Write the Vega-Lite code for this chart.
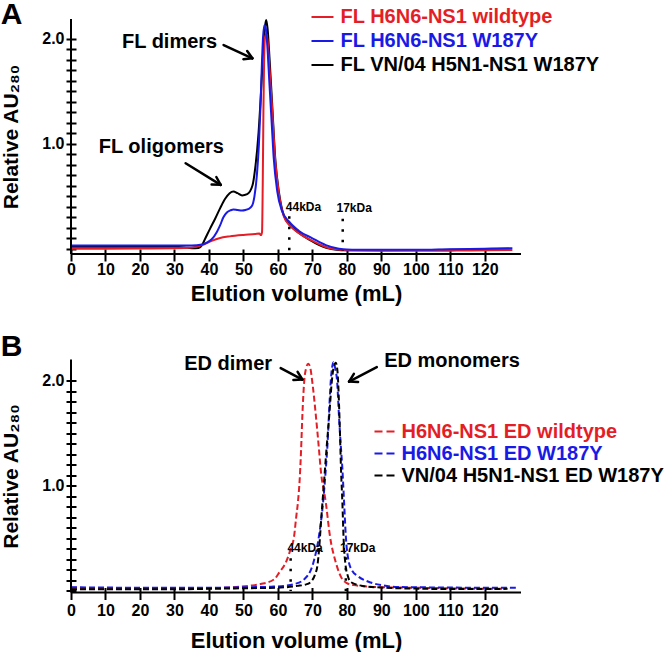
{
  "$schema": "https://vega.github.io/schema/vega-lite/v6.json",
  "background": "white",
  "padding": {"left": 0, "top": 0, "right": 0, "bottom": 0},
  "spacing": 26.5,
  "config": {
    "font": "Liberation Sans",
    "view": {"stroke": null},
    "axis": {"grid": false, "domain": false, "tickColor": "#000", "tickWidth": 2, "labelColor": "#000", "labelFontSize": 16, "labelFontWeight": "bold", "titleColor": "#000", "titleFontSize": 21, "titleFontWeight": "bold", "labelFont": "Liberation Sans", "titleFont": "Liberation Sans"},
    "title": {"fontSize": 30, "fontWeight": "bold", "color": "#000", "anchor": "start", "frame": "bounds", "font": "Liberation Sans"},
    "legend": {"orient": "none", "title": null, "symbolType": "stroke", "symbolSize": 484, "symbolStrokeWidth": 2, "labelFontSize": 20, "labelFontWeight": "bold", "labelLimit": 600, "padding": 0, "labelFont": "Liberation Sans"},
    "text": {"font": "Liberation Sans"}
  },
  "resolve": {"scale": {"color": "independent"}},
  "datasets": {
    "fl": [
      {"series": "FL VN/04 H5N1-NS1 W187Y", "volume": 0, "au": 0.02},
      {"series": "FL VN/04 H5N1-NS1 W187Y", "volume": 10, "au": 0.02},
      {"series": "FL VN/04 H5N1-NS1 W187Y", "volume": 20, "au": 0.02},
      {"series": "FL VN/04 H5N1-NS1 W187Y", "volume": 30, "au": 0.018},
      {"series": "FL VN/04 H5N1-NS1 W187Y", "volume": 33, "au": 0.012},
      {"series": "FL VN/04 H5N1-NS1 W187Y", "volume": 35, "au": 0.005},
      {"series": "FL VN/04 H5N1-NS1 W187Y", "volume": 37, "au": 0.008},
      {"series": "FL VN/04 H5N1-NS1 W187Y", "volume": 38, "au": 0.035},
      {"series": "FL VN/04 H5N1-NS1 W187Y", "volume": 38.9, "au": 0.095},
      {"series": "FL VN/04 H5N1-NS1 W187Y", "volume": 40.3, "au": 0.19},
      {"series": "FL VN/04 H5N1-NS1 W187Y", "volume": 41.8, "au": 0.286},
      {"series": "FL VN/04 H5N1-NS1 W187Y", "volume": 43.3, "au": 0.39},
      {"series": "FL VN/04 H5N1-NS1 W187Y", "volume": 44.7, "au": 0.476},
      {"series": "FL VN/04 H5N1-NS1 W187Y", "volume": 46, "au": 0.53},
      {"series": "FL VN/04 H5N1-NS1 W187Y", "volume": 47.1, "au": 0.546},
      {"series": "FL VN/04 H5N1-NS1 W187Y", "volume": 48.3, "au": 0.53},
      {"series": "FL VN/04 H5N1-NS1 W187Y", "volume": 49.6, "au": 0.508},
      {"series": "FL VN/04 H5N1-NS1 W187Y", "volume": 51.1, "au": 0.52},
      {"series": "FL VN/04 H5N1-NS1 W187Y", "volume": 52.6, "au": 0.6},
      {"series": "FL VN/04 H5N1-NS1 W187Y", "volume": 53.5, "au": 0.79},
      {"series": "FL VN/04 H5N1-NS1 W187Y", "volume": 54.4, "au": 1.11},
      {"series": "FL VN/04 H5N1-NS1 W187Y", "volume": 55.2, "au": 1.55},
      {"series": "FL VN/04 H5N1-NS1 W187Y", "volume": 55.9, "au": 1.98},
      {"series": "FL VN/04 H5N1-NS1 W187Y", "volume": 56.3, "au": 2.13},
      {"series": "FL VN/04 H5N1-NS1 W187Y", "volume": 56.6, "au": 2.18},
      {"series": "FL VN/04 H5N1-NS1 W187Y", "volume": 57, "au": 2.1},
      {"series": "FL VN/04 H5N1-NS1 W187Y", "volume": 57.6, "au": 1.8},
      {"series": "FL VN/04 H5N1-NS1 W187Y", "volume": 58.3, "au": 1.4},
      {"series": "FL VN/04 H5N1-NS1 W187Y", "volume": 59.3, "au": 0.83},
      {"series": "FL VN/04 H5N1-NS1 W187Y", "volume": 60.3, "au": 0.54},
      {"series": "FL VN/04 H5N1-NS1 W187Y", "volume": 61.7, "au": 0.32},
      {"series": "FL VN/04 H5N1-NS1 W187Y", "volume": 63.7, "au": 0.22},
      {"series": "FL VN/04 H5N1-NS1 W187Y", "volume": 65, "au": 0.18},
      {"series": "FL VN/04 H5N1-NS1 W187Y", "volume": 67, "au": 0.13},
      {"series": "FL VN/04 H5N1-NS1 W187Y", "volume": 70, "au": 0.07},
      {"series": "FL VN/04 H5N1-NS1 W187Y", "volume": 72, "au": 0.035},
      {"series": "FL VN/04 H5N1-NS1 W187Y", "volume": 74, "au": 0.01},
      {"series": "FL VN/04 H5N1-NS1 W187Y", "volume": 77, "au": -0.01},
      {"series": "FL VN/04 H5N1-NS1 W187Y", "volume": 80, "au": -0.015},
      {"series": "FL VN/04 H5N1-NS1 W187Y", "volume": 90, "au": -0.015},
      {"series": "FL VN/04 H5N1-NS1 W187Y", "volume": 100, "au": -0.012},
      {"series": "FL VN/04 H5N1-NS1 W187Y", "volume": 110, "au": -0.01},
      {"series": "FL VN/04 H5N1-NS1 W187Y", "volume": 120, "au": -0.005},
      {"series": "FL VN/04 H5N1-NS1 W187Y", "volume": 127, "au": 0.0},
      {"series": "FL H6N6-NS1 wildtype", "volume": 0, "au": 0.0},
      {"series": "FL H6N6-NS1 wildtype", "volume": 10, "au": 0.0},
      {"series": "FL H6N6-NS1 wildtype", "volume": 20, "au": 0.002},
      {"series": "FL H6N6-NS1 wildtype", "volume": 30, "au": 0.005},
      {"series": "FL H6N6-NS1 wildtype", "volume": 35, "au": 0.012},
      {"series": "FL H6N6-NS1 wildtype", "volume": 38, "au": 0.035},
      {"series": "FL H6N6-NS1 wildtype", "volume": 40.8, "au": 0.075},
      {"series": "FL H6N6-NS1 wildtype", "volume": 43, "au": 0.1},
      {"series": "FL H6N6-NS1 wildtype", "volume": 46, "au": 0.118},
      {"series": "FL H6N6-NS1 wildtype", "volume": 50, "au": 0.132},
      {"series": "FL H6N6-NS1 wildtype", "volume": 53.4, "au": 0.14},
      {"series": "FL H6N6-NS1 wildtype", "volume": 54.6, "au": 0.145},
      {"series": "FL H6N6-NS1 wildtype", "volume": 55.1, "au": 0.13},
      {"series": "FL H6N6-NS1 wildtype", "volume": 55.4, "au": 0.16},
      {"series": "FL H6N6-NS1 wildtype", "volume": 55.6, "au": 0.6},
      {"series": "FL H6N6-NS1 wildtype", "volume": 55.8, "au": 1.3},
      {"series": "FL H6N6-NS1 wildtype", "volume": 56.0, "au": 1.8},
      {"series": "FL H6N6-NS1 wildtype", "volume": 56.3, "au": 2.02},
      {"series": "FL H6N6-NS1 wildtype", "volume": 56.7, "au": 2.05},
      {"series": "FL H6N6-NS1 wildtype", "volume": 57.1, "au": 1.95},
      {"series": "FL H6N6-NS1 wildtype", "volume": 57.6, "au": 1.7},
      {"series": "FL H6N6-NS1 wildtype", "volume": 58.3, "au": 1.35},
      {"series": "FL H6N6-NS1 wildtype", "volume": 59.2, "au": 0.85},
      {"series": "FL H6N6-NS1 wildtype", "volume": 60.3, "au": 0.52},
      {"series": "FL H6N6-NS1 wildtype", "volume": 61.7, "au": 0.31},
      {"series": "FL H6N6-NS1 wildtype", "volume": 63.5, "au": 0.22},
      {"series": "FL H6N6-NS1 wildtype", "volume": 66, "au": 0.15},
      {"series": "FL H6N6-NS1 wildtype", "volume": 70, "au": 0.075},
      {"series": "FL H6N6-NS1 wildtype", "volume": 74, "au": 0.015},
      {"series": "FL H6N6-NS1 wildtype", "volume": 78, "au": -0.01},
      {"series": "FL H6N6-NS1 wildtype", "volume": 80, "au": -0.015},
      {"series": "FL H6N6-NS1 wildtype", "volume": 90, "au": -0.018},
      {"series": "FL H6N6-NS1 wildtype", "volume": 100, "au": -0.018},
      {"series": "FL H6N6-NS1 wildtype", "volume": 110, "au": -0.018},
      {"series": "FL H6N6-NS1 wildtype", "volume": 120, "au": -0.015},
      {"series": "FL H6N6-NS1 wildtype", "volume": 128, "au": -0.012},
      {"series": "FL H6N6-NS1 W187Y", "volume": 0, "au": 0.03},
      {"series": "FL H6N6-NS1 W187Y", "volume": 10, "au": 0.03},
      {"series": "FL H6N6-NS1 W187Y", "volume": 20, "au": 0.03},
      {"series": "FL H6N6-NS1 W187Y", "volume": 30, "au": 0.03},
      {"series": "FL H6N6-NS1 W187Y", "volume": 35, "au": 0.03},
      {"series": "FL H6N6-NS1 W187Y", "volume": 38, "au": 0.04},
      {"series": "FL H6N6-NS1 W187Y", "volume": 39.5, "au": 0.06},
      {"series": "FL H6N6-NS1 W187Y", "volume": 40.8, "au": 0.09},
      {"series": "FL H6N6-NS1 W187Y", "volume": 42.3, "au": 0.16},
      {"series": "FL H6N6-NS1 W187Y", "volume": 43.2, "au": 0.22},
      {"series": "FL H6N6-NS1 W187Y", "volume": 44.2, "au": 0.3},
      {"series": "FL H6N6-NS1 W187Y", "volume": 45.2, "au": 0.345},
      {"series": "FL H6N6-NS1 W187Y", "volume": 46.2, "au": 0.365},
      {"series": "FL H6N6-NS1 W187Y", "volume": 47.1, "au": 0.375},
      {"series": "FL H6N6-NS1 W187Y", "volume": 48.3, "au": 0.37},
      {"series": "FL H6N6-NS1 W187Y", "volume": 49.6, "au": 0.365},
      {"series": "FL H6N6-NS1 W187Y", "volume": 50.6, "au": 0.37},
      {"series": "FL H6N6-NS1 W187Y", "volume": 51.5, "au": 0.38},
      {"series": "FL H6N6-NS1 W187Y", "volume": 52.5, "au": 0.41},
      {"series": "FL H6N6-NS1 W187Y", "volume": 53.2, "au": 0.5},
      {"series": "FL H6N6-NS1 W187Y", "volume": 53.9, "au": 0.7},
      {"series": "FL H6N6-NS1 W187Y", "volume": 54.5, "au": 1.0},
      {"series": "FL H6N6-NS1 W187Y", "volume": 55.0, "au": 1.4},
      {"series": "FL H6N6-NS1 W187Y", "volume": 55.4, "au": 1.8},
      {"series": "FL H6N6-NS1 W187Y", "volume": 55.7, "au": 2.02},
      {"series": "FL H6N6-NS1 W187Y", "volume": 56.1, "au": 2.13},
      {"series": "FL H6N6-NS1 W187Y", "volume": 56.5, "au": 2.1},
      {"series": "FL H6N6-NS1 W187Y", "volume": 57, "au": 1.9},
      {"series": "FL H6N6-NS1 W187Y", "volume": 57.5, "au": 1.6},
      {"series": "FL H6N6-NS1 W187Y", "volume": 58.2, "au": 1.2},
      {"series": "FL H6N6-NS1 W187Y", "volume": 58.8, "au": 0.86},
      {"series": "FL H6N6-NS1 W187Y", "volume": 59.8, "au": 0.55},
      {"series": "FL H6N6-NS1 W187Y", "volume": 61.2, "au": 0.36},
      {"series": "FL H6N6-NS1 W187Y", "volume": 63.2, "au": 0.26},
      {"series": "FL H6N6-NS1 W187Y", "volume": 66.1, "au": 0.17},
      {"series": "FL H6N6-NS1 W187Y", "volume": 70, "au": 0.1},
      {"series": "FL H6N6-NS1 W187Y", "volume": 73.9, "au": 0.035},
      {"series": "FL H6N6-NS1 W187Y", "volume": 77.7, "au": 0.0},
      {"series": "FL H6N6-NS1 W187Y", "volume": 80, "au": -0.008},
      {"series": "FL H6N6-NS1 W187Y", "volume": 90, "au": -0.01},
      {"series": "FL H6N6-NS1 W187Y", "volume": 100, "au": -0.01},
      {"series": "FL H6N6-NS1 W187Y", "volume": 110, "au": -0.005},
      {"series": "FL H6N6-NS1 W187Y", "volume": 120, "au": 0.0},
      {"series": "FL H6N6-NS1 W187Y", "volume": 128, "au": 0.006}
    ],
    "ed": [
      {"series": "H6N6-NS1 ED wildtype", "volume": 0, "au": 0.03},
      {"series": "H6N6-NS1 ED wildtype", "volume": 10, "au": 0.025},
      {"series": "H6N6-NS1 ED wildtype", "volume": 20, "au": 0.022},
      {"series": "H6N6-NS1 ED wildtype", "volume": 30, "au": 0.02},
      {"series": "H6N6-NS1 ED wildtype", "volume": 40, "au": 0.025},
      {"series": "H6N6-NS1 ED wildtype", "volume": 47, "au": 0.035},
      {"series": "H6N6-NS1 ED wildtype", "volume": 52, "au": 0.05},
      {"series": "H6N6-NS1 ED wildtype", "volume": 55, "au": 0.065},
      {"series": "H6N6-NS1 ED wildtype", "volume": 58.9, "au": 0.11},
      {"series": "H6N6-NS1 ED wildtype", "volume": 60.5, "au": 0.18},
      {"series": "H6N6-NS1 ED wildtype", "volume": 62.3, "au": 0.27},
      {"series": "H6N6-NS1 ED wildtype", "volume": 63.7, "au": 0.4},
      {"series": "H6N6-NS1 ED wildtype", "volume": 64.7, "au": 0.52},
      {"series": "H6N6-NS1 ED wildtype", "volume": 65.3, "au": 0.7},
      {"series": "H6N6-NS1 ED wildtype", "volume": 65.8, "au": 0.84},
      {"series": "H6N6-NS1 ED wildtype", "volume": 66.3, "au": 1.05},
      {"series": "H6N6-NS1 ED wildtype", "volume": 66.7, "au": 1.32},
      {"series": "H6N6-NS1 ED wildtype", "volume": 67.1, "au": 1.67},
      {"series": "H6N6-NS1 ED wildtype", "volume": 67.6, "au": 1.98},
      {"series": "H6N6-NS1 ED wildtype", "volume": 68.2, "au": 2.12},
      {"series": "H6N6-NS1 ED wildtype", "volume": 68.8, "au": 2.16},
      {"series": "H6N6-NS1 ED wildtype", "volume": 69.4, "au": 2.12},
      {"series": "H6N6-NS1 ED wildtype", "volume": 70, "au": 1.98},
      {"series": "H6N6-NS1 ED wildtype", "volume": 71, "au": 1.67},
      {"series": "H6N6-NS1 ED wildtype", "volume": 71.9, "au": 1.35},
      {"series": "H6N6-NS1 ED wildtype", "volume": 72.4, "au": 1.16},
      {"series": "H6N6-NS1 ED wildtype", "volume": 73.9, "au": 0.84},
      {"series": "H6N6-NS1 ED wildtype", "volume": 75.1, "au": 0.52},
      {"series": "H6N6-NS1 ED wildtype", "volume": 76.8, "au": 0.27},
      {"series": "H6N6-NS1 ED wildtype", "volume": 78.7, "au": 0.11},
      {"series": "H6N6-NS1 ED wildtype", "volume": 80, "au": 0.075},
      {"series": "H6N6-NS1 ED wildtype", "volume": 82, "au": 0.055},
      {"series": "H6N6-NS1 ED wildtype", "volume": 86, "au": 0.042},
      {"series": "H6N6-NS1 ED wildtype", "volume": 90, "au": 0.035},
      {"series": "H6N6-NS1 ED wildtype", "volume": 100, "au": 0.03},
      {"series": "H6N6-NS1 ED wildtype", "volume": 110, "au": 0.025},
      {"series": "H6N6-NS1 ED wildtype", "volume": 120, "au": 0.02},
      {"series": "H6N6-NS1 ED wildtype", "volume": 125, "au": 0.02},
      {"series": "H6N6-NS1 ED W187Y", "volume": 0, "au": 0.035},
      {"series": "H6N6-NS1 ED W187Y", "volume": 10, "au": 0.032},
      {"series": "H6N6-NS1 ED W187Y", "volume": 20, "au": 0.03},
      {"series": "H6N6-NS1 ED W187Y", "volume": 30, "au": 0.03},
      {"series": "H6N6-NS1 ED W187Y", "volume": 40, "au": 0.03},
      {"series": "H6N6-NS1 ED W187Y", "volume": 50, "au": 0.035},
      {"series": "H6N6-NS1 ED W187Y", "volume": 58, "au": 0.04},
      {"series": "H6N6-NS1 ED W187Y", "volume": 62, "au": 0.048},
      {"series": "H6N6-NS1 ED W187Y", "volume": 64.7, "au": 0.064},
      {"series": "H6N6-NS1 ED W187Y", "volume": 67.6, "au": 0.11},
      {"series": "H6N6-NS1 ED W187Y", "volume": 70.3, "au": 0.27},
      {"series": "H6N6-NS1 ED W187Y", "volume": 71.9, "au": 0.52},
      {"series": "H6N6-NS1 ED W187Y", "volume": 73.1, "au": 0.84},
      {"series": "H6N6-NS1 ED W187Y", "volume": 73.9, "au": 1.16},
      {"series": "H6N6-NS1 ED W187Y", "volume": 74.4, "au": 1.4},
      {"series": "H6N6-NS1 ED W187Y", "volume": 74.8, "au": 1.67},
      {"series": "H6N6-NS1 ED W187Y", "volume": 75.3, "au": 1.98},
      {"series": "H6N6-NS1 ED W187Y", "volume": 75.7, "au": 2.12},
      {"series": "H6N6-NS1 ED W187Y", "volume": 76.1, "au": 2.175},
      {"series": "H6N6-NS1 ED W187Y", "volume": 76.6, "au": 2.12},
      {"series": "H6N6-NS1 ED W187Y", "volume": 77.2, "au": 1.98},
      {"series": "H6N6-NS1 ED W187Y", "volume": 77.7, "au": 1.67},
      {"series": "H6N6-NS1 ED W187Y", "volume": 78.2, "au": 1.4},
      {"series": "H6N6-NS1 ED W187Y", "volume": 78.7, "au": 1.16},
      {"series": "H6N6-NS1 ED W187Y", "volume": 79.2, "au": 0.84},
      {"series": "H6N6-NS1 ED W187Y", "volume": 79.7, "au": 0.52},
      {"series": "H6N6-NS1 ED W187Y", "volume": 80.6, "au": 0.27},
      {"series": "H6N6-NS1 ED W187Y", "volume": 81.6, "au": 0.19},
      {"series": "H6N6-NS1 ED W187Y", "volume": 83.1, "au": 0.143},
      {"series": "H6N6-NS1 ED W187Y", "volume": 86.9, "au": 0.08},
      {"series": "H6N6-NS1 ED W187Y", "volume": 90, "au": 0.055},
      {"series": "H6N6-NS1 ED W187Y", "volume": 94.7, "au": 0.038},
      {"series": "H6N6-NS1 ED W187Y", "volume": 100, "au": 0.035},
      {"series": "H6N6-NS1 ED W187Y", "volume": 110, "au": 0.032},
      {"series": "H6N6-NS1 ED W187Y", "volume": 120, "au": 0.03},
      {"series": "H6N6-NS1 ED W187Y", "volume": 129, "au": 0.03},
      {"series": "VN/04 H5N1-NS1 ED W187Y", "volume": 0, "au": 0.016},
      {"series": "VN/04 H5N1-NS1 ED W187Y", "volume": 10, "au": 0.015},
      {"series": "VN/04 H5N1-NS1 ED W187Y", "volume": 20, "au": 0.015},
      {"series": "VN/04 H5N1-NS1 ED W187Y", "volume": 30, "au": 0.015},
      {"series": "VN/04 H5N1-NS1 ED W187Y", "volume": 40, "au": 0.02},
      {"series": "VN/04 H5N1-NS1 ED W187Y", "volume": 50, "au": 0.025},
      {"series": "VN/04 H5N1-NS1 ED W187Y", "volume": 60.8, "au": 0.032},
      {"series": "VN/04 H5N1-NS1 ED W187Y", "volume": 65.7, "au": 0.048},
      {"series": "VN/04 H5N1-NS1 ED W187Y", "volume": 68, "au": 0.06},
      {"series": "VN/04 H5N1-NS1 ED W187Y", "volume": 69.5, "au": 0.085},
      {"series": "VN/04 H5N1-NS1 ED W187Y", "volume": 70.7, "au": 0.15},
      {"series": "VN/04 H5N1-NS1 ED W187Y", "volume": 71.5, "au": 0.25},
      {"series": "VN/04 H5N1-NS1 ED W187Y", "volume": 72.0, "au": 0.42},
      {"series": "VN/04 H5N1-NS1 ED W187Y", "volume": 72.6, "au": 0.7},
      {"series": "VN/04 H5N1-NS1 ED W187Y", "volume": 73.3, "au": 1.0},
      {"series": "VN/04 H5N1-NS1 ED W187Y", "volume": 74.1, "au": 1.35},
      {"series": "VN/04 H5N1-NS1 ED W187Y", "volume": 74.9, "au": 1.67},
      {"series": "VN/04 H5N1-NS1 ED W187Y", "volume": 75.6, "au": 1.98},
      {"series": "VN/04 H5N1-NS1 ED W187Y", "volume": 76.2, "au": 2.13},
      {"series": "VN/04 H5N1-NS1 ED W187Y", "volume": 76.8, "au": 2.17},
      {"series": "VN/04 H5N1-NS1 ED W187Y", "volume": 77.3, "au": 2.08},
      {"series": "VN/04 H5N1-NS1 ED W187Y", "volume": 77.7, "au": 1.8},
      {"series": "VN/04 H5N1-NS1 ED W187Y", "volume": 78.0, "au": 1.5},
      {"series": "VN/04 H5N1-NS1 ED W187Y", "volume": 78.3, "au": 1.16},
      {"series": "VN/04 H5N1-NS1 ED W187Y", "volume": 78.7, "au": 0.84},
      {"series": "VN/04 H5N1-NS1 ED W187Y", "volume": 79.1, "au": 0.46},
      {"series": "VN/04 H5N1-NS1 ED W187Y", "volume": 79.6, "au": 0.25},
      {"series": "VN/04 H5N1-NS1 ED W187Y", "volume": 80.3, "au": 0.14},
      {"series": "VN/04 H5N1-NS1 ED W187Y", "volume": 81.1, "au": 0.085},
      {"series": "VN/04 H5N1-NS1 ED W187Y", "volume": 85, "au": 0.045},
      {"series": "VN/04 H5N1-NS1 ED W187Y", "volume": 90, "au": 0.032},
      {"series": "VN/04 H5N1-NS1 ED W187Y", "volume": 100, "au": 0.022},
      {"series": "VN/04 H5N1-NS1 ED W187Y", "volume": 110, "au": 0.018},
      {"series": "VN/04 H5N1-NS1 ED W187Y", "volume": 120, "au": 0.018},
      {"series": "VN/04 H5N1-NS1 ED W187Y", "volume": 126.6, "au": 0.02}
    ],
    "arrowsA": [
      {"volume": 44.27, "au": 1.942, "volume2": 52.6, "au2": 1.815},
      {"volume": 52.6, "au": 1.815, "volume2": 51.09, "au2": 1.885},
      {"volume": 52.6, "au": 1.815, "volume2": 49.99, "au2": 1.807},
      {"volume": 33.24, "au": 0.815, "volume2": 43.4, "au2": 0.609},
      {"volume": 43.4, "au": 0.609, "volume2": 42.15, "au2": 0.684},
      {"volume": 43.4, "au": 0.609, "volume2": 40.78, "au2": 0.612}
    ],
    "arrowsB": [
      {"volume": 60.81, "au": 2.118, "volume2": 67.11, "au2": 2.0095},
      {"volume": 67.11, "au": 2.0095, "volume2": 65.72, "au2": 2.082},
      {"volume": 67.11, "au": 2.0095, "volume2": 64.5, "au2": 2.006},
      {"volume": 88.68, "au": 2.128, "volume2": 80.64, "au2": 1.99},
      {"volume": 80.64, "au": 1.99, "volume2": 83.25, "au2": 1.987},
      {"volume": 80.64, "au": 1.99, "volume2": 82.03, "au2": 2.063}
    ],
    "labelsA": [
      {"volume": 28.6, "au": 1.91, "text": "FL dimers"},
      {"volume": 26.2, "au": 0.91, "text": "FL oligomers"}
    ],
    "labelsB": [
      {"volume": 45.57, "au": 2.102, "text": "ED dimer"},
      {"volume": 110.5, "au": 2.128, "text": "ED monomers"}
    ],
    "markersA": [
      {"volume": 63.3, "au": 0.31, "au2": -0.02, "volumeText": 62.3, "auText": 0.36, "text": "44kDa"},
      {"volume": 78.8, "au": 0.285, "au2": -0.02, "volumeText": 77.0, "auText": 0.355, "text": "17kDa"}
    ],
    "markersB": [
      {"volume": 63.7, "au": 0.31, "au2": 0.0, "volumeText": 62.76, "auText": 0.366, "text": "44kDa"},
      {"volume": 79.7, "au": 0.32, "au2": 0.0, "volumeText": 78.0, "auText": 0.366, "text": "17kDa"}
    ]
  },
  "vconcat": [
    {
      "title": {"text": "A", "dy": 29},
      "width": 450,
      "height": 235,
      "layer": [
        {
          "data": {"name": "fl"},
          "mark": {"type": "line", "strokeWidth": 2, "interpolate": "monotone"},
          "encoding": {
            "x": {"field": "volume", "type": "quantitative", "scale": {"domain": [0, 130.5], "nice": false, "zero": false},
              "axis": {"title": "Elution volume (mL)", "titleFontSize": 22, "values": [0, 10, 20, 30, 40, 50, 60, 70, 80, 90, 100, 110, 120], "tickCount": 14, "offset": -5, "tickSize": 12, "labelPadding": 0, "titlePadding": 6.5, "labelFlush": false, "labelOverlap": false}},
            "y": {"field": "au", "type": "quantitative", "scale": {"domain": [-0.05, 2.19], "nice": false, "zero": false},
              "axis": {"title": "Relative AU₂₈₀", "values": [0, 0.1, 0.2, 0.3, 0.4, 0.5, 0.6, 0.7, 0.8, 0.9, 1, 1.1, 1.2, 1.3, 1.4, 1.5, 1.6, 1.7, 1.8, 1.9, 2], "tickCount": 22, "labelExpr": "(datum.value > 0.95 && datum.value < 1.05) || datum.value > 1.95 ? format(datum.value, '.1f') : ''", "offset": -5, "tickSize": 10, "labelPadding": 2, "titlePadding": 20, "labelOverlap": false}},
            "color": {"field": "series", "type": "nominal",
              "scale": {"domain": ["FL H6N6-NS1 wildtype", "FL H6N6-NS1 W187Y", "FL VN/04 H5N1-NS1 W187Y"], "range": ["#e41e26", "#1a1ae6", "#000000"]},
              "legend": {"legendX": 239.5, "legendY": -14, "labelOffset": 6, "rowPadding": 2,
                "encode": {"labels": {"update": {"fill": {"signal": "datum.value === 'FL H6N6-NS1 wildtype' ? '#e41e26' : datum.value === 'FL H6N6-NS1 W187Y' ? '#1a1ae6' : '#000000'"}}}}}}
          }
        },
        {
          "data": {"values": [{}]},
          "mark": {"type": "rule", "strokeWidth": 2, "color": "#000"},
          "encoding": {"y": {"datum": -0.05, "type": "quantitative", "scale": {"domain": [-0.05, 2.19], "nice": false, "zero": false}}}
        },
        {
          "data": {"values": [{}]},
          "mark": {"type": "rule", "strokeWidth": 2, "color": "#000"},
          "encoding": {
            "x": {"datum": 0, "type": "quantitative", "scale": {"domain": [0, 130.5], "nice": false, "zero": false}},
            "y": {"datum": -0.05, "type": "quantitative", "scale": {"domain": [-0.05, 2.19], "nice": false, "zero": false}},
            "y2": {"datum": 2.19}
          }
        },
        {
          "data": {"name": "markersA"},
          "mark": {"type": "rule", "strokeWidth": 2.5, "strokeDash": [2.5, 8], "color": "#000"},
          "encoding": {
            "x": {"field": "volume", "type": "quantitative"},
            "y": {"field": "au", "type": "quantitative"},
            "y2": {"field": "au2"}
          }
        },
        {
          "data": {"name": "markersA"},
          "mark": {"type": "text", "fontSize": 12, "fontWeight": "bold", "align": "left", "baseline": "alphabetic", "color": "#000"},
          "encoding": {
            "x": {"field": "volumeText", "type": "quantitative"},
            "y": {"field": "auText", "type": "quantitative"},
            "text": {"field": "text"}
          }
        },
        {
          "data": {"name": "arrowsA"},
          "mark": {"type": "rule", "strokeWidth": 2.5, "color": "#000", "strokeCap": "round"},
          "encoding": {
            "x": {"field": "volume", "type": "quantitative"},
            "y": {"field": "au", "type": "quantitative"},
            "x2": {"field": "volume2"},
            "y2": {"field": "au2"}
          }
        },
        {
          "data": {"name": "labelsA"},
          "mark": {"type": "text", "fontSize": 20, "fontWeight": "bold", "align": "center", "baseline": "alphabetic", "color": "#000"},
          "encoding": {
            "x": {"field": "volume", "type": "quantitative"},
            "y": {"field": "au", "type": "quantitative"},
            "text": {"field": "text"}
          }
        }
      ]
    },
    {
      "title": {"text": "B", "dy": 15},
      "width": 450,
      "height": 233,
      "layer": [
        {
          "data": {"name": "ed"},
          "mark": {"type": "line", "strokeWidth": 2, "strokeDash": [6, 3], "interpolate": "monotone"},
          "encoding": {
            "x": {"field": "volume", "type": "quantitative", "scale": {"domain": [0, 130.5], "nice": false, "zero": false},
              "axis": {"title": "Elution volume (mL)", "titleFontSize": 22, "values": [0, 10, 20, 30, 40, 50, 60, 70, 80, 90, 100, 110, 120], "tickCount": 14, "offset": -5, "tickSize": 12, "labelPadding": 3, "titlePadding": 12, "labelFlush": false, "labelOverlap": false}},
            "y": {"field": "au", "type": "quantitative", "scale": {"domain": [-0.015, 2.2], "nice": false, "zero": false},
              "axis": {"title": "Relative AU₂₈₀", "values": [0, 0.1, 0.2, 0.3, 0.4, 0.5, 0.6, 0.7, 0.8, 0.9, 1, 1.1, 1.2, 1.3, 1.4, 1.5, 1.6, 1.7, 1.8, 1.9, 2], "tickCount": 22, "labelExpr": "(datum.value > 0.95 && datum.value < 1.05) || datum.value > 1.95 ? format(datum.value, '.1f') : ''", "offset": -5, "tickSize": 10, "labelPadding": 2, "titlePadding": 20, "labelOverlap": false}},
            "color": {"field": "series", "type": "nominal",
              "scale": {"domain": ["H6N6-NS1 ED wildtype", "H6N6-NS1 ED W187Y", "VN/04 H5N1-NS1 ED W187Y"], "range": ["#e41e26", "#1a1ae6", "#000000"]},
              "legend": {"legendX": 302.5, "legendY": 60, "labelOffset": 4, "rowPadding": 0, "symbolDash": [8, 4],
                "encode": {"labels": {"update": {"fill": {"signal": "datum.value === 'H6N6-NS1 ED wildtype' ? '#e41e26' : datum.value === 'H6N6-NS1 ED W187Y' ? '#1a1ae6' : '#000000'"}}}}}}
          }
        },
        {
          "data": {"values": [{}]},
          "mark": {"type": "rule", "strokeWidth": 2, "color": "#000"},
          "encoding": {"y": {"datum": -0.015, "type": "quantitative", "scale": {"domain": [-0.015, 2.2], "nice": false, "zero": false}}}
        },
        {
          "data": {"values": [{}]},
          "mark": {"type": "rule", "strokeWidth": 2, "color": "#000"},
          "encoding": {
            "x": {"datum": 0, "type": "quantitative", "scale": {"domain": [0, 130.5], "nice": false, "zero": false}},
            "y": {"datum": -0.015, "type": "quantitative", "scale": {"domain": [-0.015, 2.2], "nice": false, "zero": false}},
            "y2": {"datum": 2.2}
          }
        },
        {
          "data": {"name": "markersB"},
          "mark": {"type": "rule", "strokeWidth": 2.5, "strokeDash": [2.5, 8], "color": "#000"},
          "encoding": {
            "x": {"field": "volume", "type": "quantitative"},
            "y": {"field": "au", "type": "quantitative"},
            "y2": {"field": "au2"}
          }
        },
        {
          "data": {"name": "markersB"},
          "mark": {"type": "text", "fontSize": 12, "fontWeight": "bold", "align": "left", "baseline": "alphabetic", "color": "#000"},
          "encoding": {
            "x": {"field": "volumeText", "type": "quantitative"},
            "y": {"field": "auText", "type": "quantitative"},
            "text": {"field": "text"}
          }
        },
        {
          "data": {"name": "arrowsB"},
          "mark": {"type": "rule", "strokeWidth": 2.5, "color": "#000", "strokeCap": "round"},
          "encoding": {
            "x": {"field": "volume", "type": "quantitative"},
            "y": {"field": "au", "type": "quantitative"},
            "x2": {"field": "volume2"},
            "y2": {"field": "au2"}
          }
        },
        {
          "data": {"name": "labelsB"},
          "mark": {"type": "text", "fontSize": 20, "fontWeight": "bold", "align": "center", "baseline": "alphabetic", "color": "#000"},
          "encoding": {
            "x": {"field": "volume", "type": "quantitative"},
            "y": {"field": "au", "type": "quantitative"},
            "text": {"field": "text"}
          }
        }
      ]
    }
  ]
}
